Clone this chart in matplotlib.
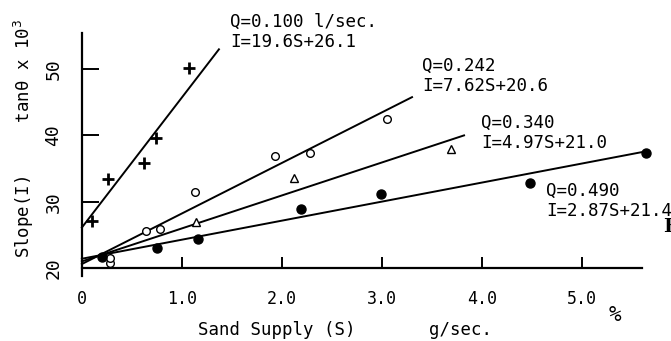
import numpy as np
import matplotlib
matplotlib.use('Agg')
import matplotlib.pyplot as plt

# Q = 0.100 l/sec  (plus markers)
s_100 = [0.10, 0.26, 0.62, 0.74, 1.07]
i_100 = [27.1, 33.4, 35.8, 39.6, 50.1]
# Q = 0.242  (open circles)
s_242 = [0.28, 0.28, 0.64, 0.78, 1.13, 1.93, 2.28, 3.05]
i_242 = [20.7, 21.5, 25.6, 25.9, 31.4, 36.9, 37.4, 42.5]
# Q = 0.340  (open triangles)
s_340 = [1.14, 2.12, 3.69]
i_340 = [27.0, 33.5, 38.0]
# Q = 0.490  (filled circles)
s_490 = [0.20, 0.75, 1.16, 2.19, 2.99, 4.48, 5.64]
i_490 = [21.7, 23.0, 24.4, 28.9, 31.2, 32.8, 37.4]

# regression lines: slope, intercept, end of line in S
fits = [(19.6, 26.1, 1.37), (7.62, 20.6, 3.30), (4.97, 21.0, 3.82), (2.87, 21.4, 5.64)]
labels = ['Q=0.100 l/sec.\nI=19.6S+26.1', 'Q=0.242\nI=7.62S+20.6',
          'Q=0.340\nI=4.97S+21.0', 'Q=0.490\nI=2.87S+21.4']
label_pos = [(1.48, 55.5), (3.40, 48.9), (3.99, 40.3), (4.64, 30.1)]

xticks = [0, 1.0, 2.0, 3.0, 4.0, 5.0]
xticklabels = ['0', '1.0', '2.0', '3.0', '4.0', '5.0']
yticks = [20, 30, 40, 50]

mono = 'DejaVu Sans Mono'
plt.rcParams['font.family'] = mono

fig = plt.figure(figsize=(6.71, 3.41), dpi=100)
ax = fig.add_axes([0.122, 0.214, 0.835, 0.689])
ax.set_xlim(0, 5.6)
ax.set_ylim(20, 55.4)

for m, b, end in fits:
    s = np.array([0, end])
    ax.plot(s, m * s + b, color='k', lw=1.4, zorder=2, clip_on=False)

ax.plot(s_100, i_100, ls='none', marker='+', ms=9, mew=2.0, color='k', zorder=3)
ax.plot(s_242, i_242, ls='none', marker='o', ms=5.5, mew=1.0, mfc='white', mec='k', zorder=3)
ax.plot(s_340, i_340, ls='none', marker='^', ms=5.5, mew=1.0, mfc='white', mec='k', zorder=3)
ax.plot(s_490, i_490, ls='none', marker='o', ms=6.5, color='k', zorder=3, clip_on=False)

for txt, (x, y) in zip(labels, label_pos):
    ax.text(x, y, txt, fontsize=12.6, va='center', ha='left', linespacing=1.15, clip_on=False)

ax.spines['top'].set_visible(False)
ax.spines['right'].set_visible(False)
ax.spines['left'].set_linewidth(1.6)
ax.spines['bottom'].set_linewidth(1.6)
ax.spines['left'].set_bounds(18.8, 55.4)
ax.set_xticks(xticks)
ax.set_xticklabels(xticklabels, fontsize=12)
ax.set_yticks(yticks)
ax.set_yticklabels([str(t) for t in yticks], fontsize=13, rotation=90, va='center')
ax.tick_params(axis='x', direction='in', length=8, width=1.4, pad=16)
ax.tick_params(axis='y', direction='in', length=12, width=1.4, pad=14)

ax.set_xlabel('Sand Supply (S)       g/sec.', fontsize=12.5, labelpad=9, x=0.47)
ax.set_ylabel('Slope(I)     tanθ x 10$^3$', fontsize=12.5, labelpad=6, y=0.55)
fig.text(0.907, 0.06, '%', fontsize=15)
fig.text(0.988, 0.32, 'F', fontsize=14, fontweight='bold', family='DejaVu Serif')

fig.savefig('out.png', dpi=100)
